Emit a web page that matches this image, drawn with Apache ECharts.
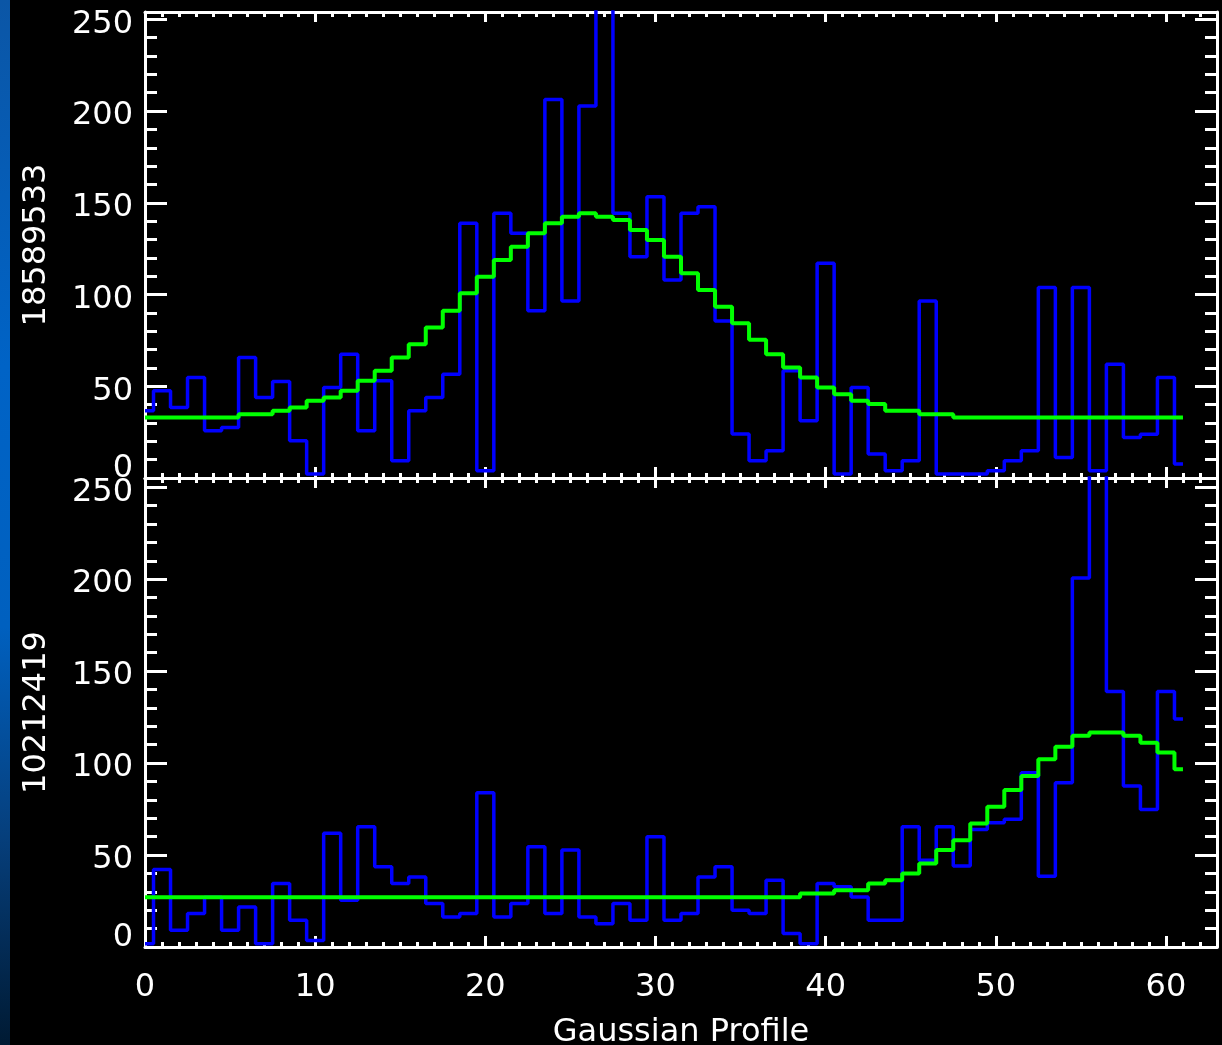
<!DOCTYPE html>
<html>
<head>
<meta charset="utf-8">
<script src="https://cdn.jsdelivr.net/npm/echarts@6/dist/echarts.min.js"></script>
<style>
  html, body { margin: 0; padding: 0; background: #000; }
  #chart { width: 1222px; height: 1045px; }
</style>
</head>
<body>
<div id="chart"></div>
<script>
// ---- data ----
const bins = [0,1,2,3,4,5,6,7,8,9,10,11,12,13,14,15,16,17,18,19,20,21,22,23,24,25,26,27,28,29,30,
  31,32,33,34,35,36,37,38,39,40,41,42,43,44,45,46,47,48,49,50,51,52,53,54,55,56,57,58,59,60,61];

const panelNames = ['18589533', '10212419'];
const xTitle = 'Gaussian Profile';

// top panel: observed profile (blue) and fit (green)
const topObserved = [36.6,47.5,38.4,54.8,25.7,27.5,65.7,43.9,52.6,20.3,2.2,49.3,67.5,25.7,53.0,9.4,
  36.6,43.9,56.6,138.8,4.0,144.3,133.4,91.1,206.3,96.5,202.7,290,144.3,120.6,153.3,107.9,144.3,147.9,
  85.6,24.0,9.4,14.9,58.4,31.2,117.0,2.2,49.3,13.1,4.0,9.4,96.5,2.2,2.2,2.2,4.0,9.4,14.9,103.8,11.2,
  103.8,4.0,62.0,22.1,23.9,54.8,7.6];
const topFit = [33.0,33.0,33.0,33.0,33.0,33.0,34.8,34.8,36.6,38.4,42.1,43.9,47.5,53.0,58.4,65.7,
  72.9,82.0,91.1,100.7,109.7,118.8,126.1,133.4,138.8,142.4,144.3,142.4,140.6,135.2,129.7,120.6,111.6,
  102.5,93.4,84.4,75.3,67.5,60.2,54.8,49.3,45.7,42.1,40.3,36.6,36.6,34.8,34.8,33.0,33.0,33.0,33.0,
  33.0,33.0,33.0,33.0,33.0,33.0,33.0,33.0,33.0,33.0];

// bottom panel
const bottomObserved = [1.8,42.1,9.1,18.2,27.1,9.1,21.8,1.8,34.5,14.5,3.6,61.8,25.4,65.4,43.6,34.5,
  38.1,23.6,16.3,18.2,83.9,16.3,23.6,54.5,18.2,52.7,16.3,12.7,23.6,14.5,59.9,14.5,18.2,38.1,43.6,
  20.0,18.2,36.3,7.3,1.8,34.5,32.7,27.2,14.5,14.5,65.4,47.2,65.4,44.0,63.9,67.5,69.4,94.8,38.5,89.3,
  200.6,290,138.9,87.5,74.8,138.9,123.9];
const bottomFit = [27.1,27.1,27.1,27.1,27.1,27.1,27.1,27.1,27.1,27.1,27.1,27.1,27.1,27.1,27.1,27.1,
  27.1,27.1,27.1,27.1,27.1,27.1,27.1,27.1,27.1,27.1,27.1,27.1,27.1,27.1,27.1,27.1,27.1,27.1,27.1,
  27.1,27.1,27.1,27.1,29.1,29.1,30.9,30.9,34.5,36.3,40.0,45.4,52.7,58.1,67.2,76.3,85.3,93.0,102.1,
  108.9,114.8,116.6,116.6,114.8,111.1,105.7,96.6];

// ---- chart ----
const WHITE = '#ffffff';
const FONT = 'DejaVu Sans';
const X_MIN = 0, X_MAX = 63;
const Y_MAX = [254, 255];

function lineW(w) { return { color: WHITE, width: w }; }

function xAxes(gi, withLabels) {
  const base = {
    gridIndex: gi, type: 'value', min: X_MIN, max: X_MAX,
    splitLine: { show: false }, axisLabel: { show: false }
  };
  const major = Object.assign({}, base, {
    position: 'bottom', interval: 10,
    axisLine: { show: true, onZero: false, lineStyle: lineW(3) },
    axisTick: { show: true, inside: true, length: 11, lineStyle: lineW(3) }
  });
  if (withLabels) {
    major.axisLabel = {
      show: true, color: WHITE, fontFamily: FONT, fontSize: 32, lineHeight: 32, margin: 25,
      formatter: v => (v % 10 === 0 ? String(v) : '')
    };
    major.name = xTitle;
    major.nameLocation = 'middle';
    major.nameGap = 70;
    major.nameTextStyle = { color: WHITE, fontFamily: FONT, fontSize: 32, lineHeight: 32 };
  }
  return [
    major,
    Object.assign({}, base, {
      position: 'bottom', interval: 1,
      axisLine: { show: false, onZero: false },
      axisTick: { show: true, inside: true, length: 5, lineStyle: lineW(3) }
    }),
    Object.assign({}, base, {
      position: 'top', interval: 10,
      axisLine: { show: true, onZero: false, lineStyle: lineW(3) },
      axisTick: { show: true, inside: true, length: 10, lineStyle: lineW(3) }
    }),
    Object.assign({}, base, {
      position: 'top', interval: 1,
      axisLine: { show: false, onZero: false },
      axisTick: { show: true, inside: true, length: 5, lineStyle: lineW(3) }
    })
  ];
}

function yAxes(gi) {
  const base = {
    gridIndex: gi, type: 'value', min: 0, max: Y_MAX[gi],
    splitLine: { show: false }, axisLabel: { show: false }
  };
  const txt = { color: WHITE, fontFamily: FONT, fontSize: 32, lineHeight: 32 };
  return [
    Object.assign({}, base, {
      position: 'left', interval: 50,
      axisLine: { show: true, onZero: false, lineStyle: lineW(3) },
      axisTick: { show: true, inside: true, length: 22, lineStyle: lineW(3) },
      axisLabel: {
        show: true, color: WHITE, fontFamily: FONT, fontSize: 32, lineHeight: 32, margin: 12,
        formatter: v => (v === 0 ? '{z|0}' : (v % 50 === 0 ? '{n|' + v + '}' : '')),
        rich: {
          z: Object.assign({}, txt, { padding: [0, 0, 18, 0] }),
          n: Object.assign({}, txt, { padding: [10, 0, 0, 0] })
        }
      },
      name: panelNames[gi], nameLocation: 'middle', nameRotate: 90, nameGap: 92,
      nameTextStyle: txt
    }),
    Object.assign({}, base, {
      position: 'left', interval: 10,
      axisLine: { show: false, onZero: false },
      axisTick: { show: true, inside: true, length: 12, lineStyle: lineW(3) }
    }),
    Object.assign({}, base, {
      position: 'right', interval: 50,
      axisLine: { show: true, onZero: false, lineStyle: lineW(3) },
      axisTick: { show: true, inside: true, length: 22, lineStyle: lineW(3) }
    }),
    Object.assign({}, base, {
      position: 'right', interval: 10,
      axisLine: { show: false, onZero: false },
      axisTick: { show: true, inside: true, length: 12, lineStyle: lineW(3) }
    })
  ];
}

function stepSeries(values, gi, color, width, z) {
  return {
    type: 'line', step: 'middle', showSymbol: false, symbol: 'none',
    xAxisIndex: gi * 4, yAxisIndex: gi * 4, z: z, clip: true,
    lineStyle: { color: color, width: width },
    data: bins.map((b, i) => [b, values[i]])
  };
}

const chart = echarts.init(document.getElementById('chart'), null, { renderer: 'canvas' });
chart.setOption({
  backgroundColor: '#000000',
  animation: false,
  graphic: [{
    type: 'rect', left: 0, top: 0, z: -1, silent: true,
    shape: { x: 0, y: 0, width: 10, height: 1045 },
    style: {
      fill: new echarts.graphic.LinearGradient(0, 0, 0, 1, [
        { offset: 0, color: '#0b56a6' },
        { offset: 0.35, color: '#0063c6' },
        { offset: 0.6, color: '#0060bf' },
        { offset: 0.8, color: '#063f7c' },
        { offset: 1, color: '#001a33' }
      ])
    }
  }],
  grid: [
    { left: 145, right: 5, top: 12, height: 466, containLabel: false, outerBoundsMode: 'none' },
    { left: 145, right: 5, top: 478, height: 469, containLabel: false, outerBoundsMode: 'none' }
  ],
  xAxis: xAxes(0, false).concat(xAxes(1, true)),
  yAxis: yAxes(0).concat(yAxes(1)),
  series: [
    stepSeries(topObserved, 0, '#0000ff', 3.5, 2),
    stepSeries(topFit, 0, '#00ff00', 4, 3),
    stepSeries(bottomObserved, 1, '#0000ff', 3.5, 2),
    stepSeries(bottomFit, 1, '#00ff00', 4, 3)
  ]
});
</script>
</body>
</html>
